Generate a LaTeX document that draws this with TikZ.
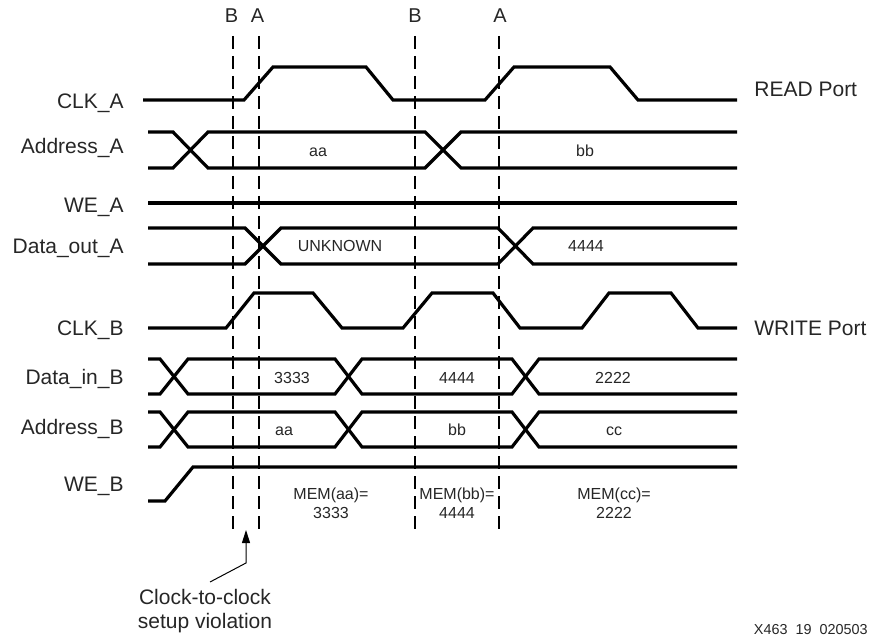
\documentclass[tikz,border=0pt]{standalone}
\usepackage{fontspec}
\setmainfont{Liberation Sans}
\usetikzlibrary{arrows.meta}

\begin{document}
\begin{tikzpicture}[x=0.5pt,y=-0.5pt,
	wave/.style={line width=1.6pt},
	guide/.style={line width=0.6pt,dash pattern=on 6.5pt off 3.5pt},
	signame/.style={font=\fontsize{10.5}{12}\selectfont,anchor=base east,inner sep=0pt,text=black!85},
	portname/.style={font=\fontsize{10.5}{12}\selectfont,anchor=base west,inner sep=0pt,text=black!85},
	edgename/.style={font=\fontsize{10}{12}\selectfont,anchor=base,inner sep=0pt,text=black!85},
	value/.style={font=\fontsize{8}{9.5}\selectfont,anchor=base,inner sep=0pt,text=black!85}]
			%%%%% START %%%%%
			\def\xs{148}
			\def\xe{737}
			\def\ylbl{124}
			\def\gtop{36}
			\def\gbot{532}
			\def\cah{67}
			\def\cal{100}
			\def\aat{132}
			\def\aab{168}
			\def\wea{203}
			\def\dtop{228}
			\def\dbot{264}
			\def\cbh{293}
			\def\cbl{328}
			\def\dit{359}
			\def\dib{394}
			\def\abt{412}
			\def\abb{447}
			\def\webh{467}
			\def\webl{501}
			
			\useasboundingbox (0,0) rectangle (876,635);
			
			% edge markers
			\node[edgename] (lblBone) at (231.5,23) {B};
			\node[edgename] (lblAone) at (257.5,23) {A};
			\node[edgename] (lblBtwo) at (415,23) {B};
			\node[edgename] (lblAtwo) at (500,23) {A};
			\draw[guide] (233,\gtop) -- (233,\gbot);
			\draw[guide] (259,\gtop) -- (259,\gbot);
			\draw[guide] (415,\gtop) -- (415,\gbot);
			\draw[guide] (499,\gtop) -- (499,\gbot);
			
			% signal names
			\node[signame] (nclka) at (\ylbl,108.5) {CLK\_A};
			\node[signame] (naddra) at (\ylbl,153.5) {Address\_A};
			\node[signame] (nwea) at (\ylbl,212.5) {WE\_A};
			\node[signame] (ndouta) at (\ylbl,253.5) {Data\_out\_A};
			\node[signame] (nclkb) at (\ylbl,335.5) {CLK\_B};
			\node[signame] (ndinb) at (\ylbl,384.5) {Data\_in\_B};
			\node[signame] (naddrb) at (\ylbl,434.5) {Address\_B};
			\node[signame] (nweb) at (\ylbl,491.5) {WE\_B};
			\node[portname] (readport) at (754,96.5) {READ Port};
			\node[portname] (writeport) at (754,335.5) {WRITE Port};
			
			% READ port
			\draw[wave] (143,\cal) -- (244,\cal) -- (273,\cah) -- (366,\cah) -- (393,\cal) -- (485,\cal) -- (514,\cah) -- (610,\cah) -- (638,\cal) -- (\xe,\cal);
			
			\draw[wave] (\xs,\aat) -- (173,\aat) -- (208,\aab) -- (425,\aab) -- (461,\aat) -- (\xe,\aat);
			\draw[wave] (\xs,\aab) -- (173,\aab) -- (208,\aat) -- (425,\aat) -- (461,\aab) -- (\xe,\aab);
			\node[value] (aaa) at (318,157) {aa};
			\node[value] (abb) at (585,157) {bb};
			
			\draw[wave] (\xs,\wea) -- (\xe,\wea);
			
			\draw[wave] (\xs,\dtop) -- (245,\dtop) -- (281,\dbot) -- (498,\dbot) -- (533,\dtop) -- (\xe,\dtop);
			\draw[wave] (\xs,\dbot) -- (245,\dbot) -- (281,\dtop) -- (498,\dtop) -- (533,\dbot) -- (\xe,\dbot);
			\node[value] (dunk) at (340,252) {UNKNOWN};
			\node[value] (dfour) at (586,252) {4444};
			
			% WRITE port
			\draw[wave] (\xs,\cbl) -- (226,\cbl) -- (254,\cbh) -- (313,\cbh) -- (342,\cbl) -- (403,\cbl) -- (432,\cbh) -- (493,\cbh) -- (520,\cbl) -- (582,\cbl) -- (609,\cbh) -- (671,\cbh) -- (698,\cbl) -- (\xe,\cbl);
			
			\draw[wave] (\xs,\dit) -- (160,\dit) -- (188,\dib) -- (335,\dib) -- (362,\dit) -- (512,\dit) -- (539,\dib) -- (\xe,\dib);
			\draw[wave] (\xs,\dib) -- (160,\dib) -- (188,\dit) -- (335,\dit) -- (362,\dib) -- (512,\dib) -- (539,\dit) -- (\xe,\dit);
			\node[value] (dthree) at (292,384) {3333};
			\node[value] (dfourb) at (457,384) {4444};
			\node[value] (dtwo) at (613,384) {2222};
			
			\draw[wave] (\xs,\abt) -- (160,\abt) -- (188,\abb) -- (335,\abb) -- (362,\abt) -- (512,\abt) -- (539,\abb) -- (\xe,\abb);
			\draw[wave] (\xs,\abb) -- (160,\abb) -- (188,\abt) -- (335,\abt) -- (362,\abb) -- (512,\abb) -- (539,\abt) -- (\xe,\abt);
			\node[value] (baa) at (284,435) {aa};
			\node[value] (bbb) at (457,435) {bb};
			\node[value] (bcc) at (614,435) {cc};
			
			\draw[wave] (\xs,\webl) -- (165,\webl) -- (193,\webh) -- (\xe,\webh);
			
			\node[value,align=center] (memaa) at (331,518) {MEM(aa)=\\3333};
			\node[value,align=center] (membb) at (457,518) {MEM(bb)=\\4444};
			\node[value,align=center] (memcc) at (614,518) {MEM(cc)=\\2222};
			
			% setup violation
			\node[font=\fontsize{10.5}{12}\selectfont,align=center,anchor=north,inner sep=0pt,text=black!85] (viol) at (205,589) {Clock-to-clock\\setup violation};
			\coordinate (vbend) at (246,563);
			\coordinate (vtip) at (246,530);
			\draw[line width=0.5pt,-{Triangle[width=4pt,length=6.5pt]}] ([xshift=2.5pt,yshift=3.5pt]viol.north) -- (vbend) -- (vtip);
			
			\node[font=\fontsize{7.2}{8}\selectfont,anchor=base east,inner sep=0pt,text=black!85] (figid) at (868,634.5) {X463\_19\_020503};
			%%%%% START %%%%%
		\end{tikzpicture}
\end{document}
